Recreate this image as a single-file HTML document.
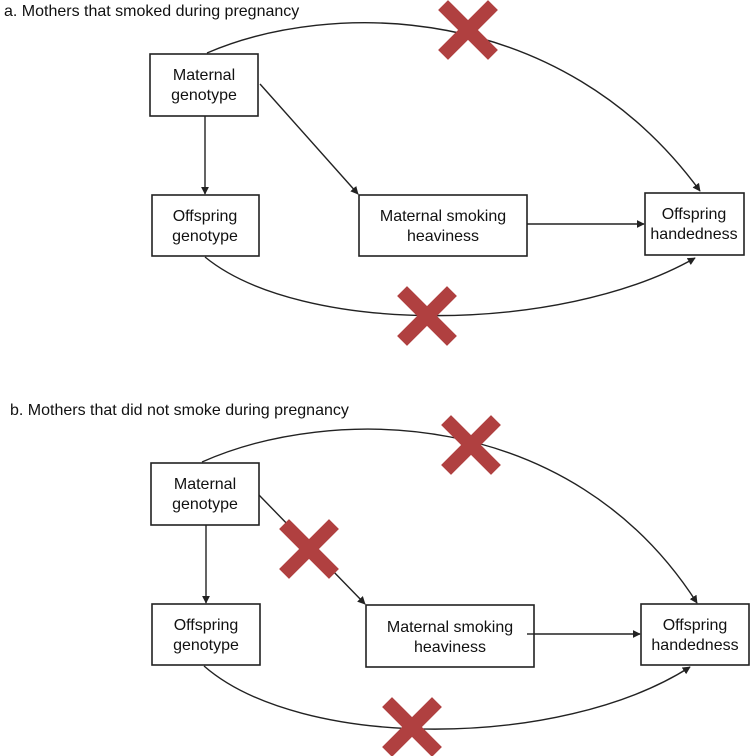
<!DOCTYPE html>
<html><head><style>
html,body{margin:0;padding:0;background:#fff;}
svg{display:block;}
text{font-family:"Liberation Sans",sans-serif;fill:#111;}
</style></head><body>
<svg width="751" height="756" viewBox="0 0 751 756" xmlns="http://www.w3.org/2000/svg">
<defs>
<marker id="ar" viewBox="0 0 10 10" refX="9" refY="5" markerWidth="8" markerHeight="8" orient="auto-start-reverse" markerUnits="userSpaceOnUse"><path d="M0,0 L10,5 L0,10 z" fill="#222"/></marker>
<g id="x"><line x1="-20" y1="-20" x2="20" y2="20" stroke="#b04040" stroke-width="14" stroke-linecap="square"/><line x1="20" y1="-20" x2="-20" y2="20" stroke="#b04040" stroke-width="14" stroke-linecap="square"/></g>
</defs>
<g stroke="#222" stroke-width="1.4" fill="none">
<path d="M207,53 C330,0 560,0 700,191" marker-end="url(#ar)"/>
<path d="M205,257 C300,335 560,335 695,258" marker-end="url(#ar)"/>
<line x1="205" y1="116" x2="205" y2="194" marker-end="url(#ar)"/>
<line x1="260" y1="84" x2="358" y2="194" marker-end="url(#ar)"/>
<line x1="527" y1="224" x2="644" y2="224" marker-end="url(#ar)"/>
<path d="M202,462 C330,405 570,405 697,603" marker-end="url(#ar)"/>
<path d="M204,666 C300,750 560,750 690,667" marker-end="url(#ar)"/>
<line x1="206" y1="525" x2="206" y2="603" marker-end="url(#ar)"/>
<line x1="259" y1="495" x2="365" y2="604" marker-end="url(#ar)"/>
<line x1="527" y1="634" x2="640" y2="634" marker-end="url(#ar)"/>
</g>
<g fill="#fff" stroke="#222" stroke-width="1.6">
<rect x="150" y="54" width="108" height="62"/>
<rect x="152" y="195" width="107" height="61"/>
<rect x="359" y="195" width="168" height="61"/>
<rect x="645" y="193" width="99" height="62"/>
<rect x="151" y="463" width="108" height="62"/>
<rect x="152" y="604" width="108" height="61"/>
<rect x="366" y="605" width="168" height="62"/>
<rect x="641" y="604" width="108" height="61"/>
</g>
<line x1="527" y1="634" x2="534" y2="634" stroke="#222" stroke-width="1.4"/>
<use href="#x" x="468" y="30"/>
<use href="#x" x="427" y="316"/>
<use href="#x" x="471" y="445"/>
<use href="#x" x="309" y="549"/>
<use href="#x" x="412" y="727"/>
<g font-size="16" text-anchor="middle">
<text x="204" y="80">Maternal</text><text x="204" y="100">genotype</text>
<text x="205" y="221">Offspring</text><text x="205" y="241">genotype</text>
<text x="443" y="221">Maternal smoking</text><text x="443" y="241">heaviness</text>
<text x="694" y="219">Offspring</text><text x="694" y="239">handedness</text>
<text x="205" y="489">Maternal</text><text x="205" y="509">genotype</text>
<text x="206" y="630">Offspring</text><text x="206" y="650">genotype</text>
<text x="450" y="632">Maternal smoking</text><text x="450" y="652">heaviness</text>
<text x="695" y="630">Offspring</text><text x="695" y="650">handedness</text>
</g>
<text x="4" y="16" font-size="16">a. Mothers that smoked during pregnancy</text>
<text x="10" y="415" font-size="16">b. Mothers that did not smoke during pregnancy</text>
</svg>
</body></html>
